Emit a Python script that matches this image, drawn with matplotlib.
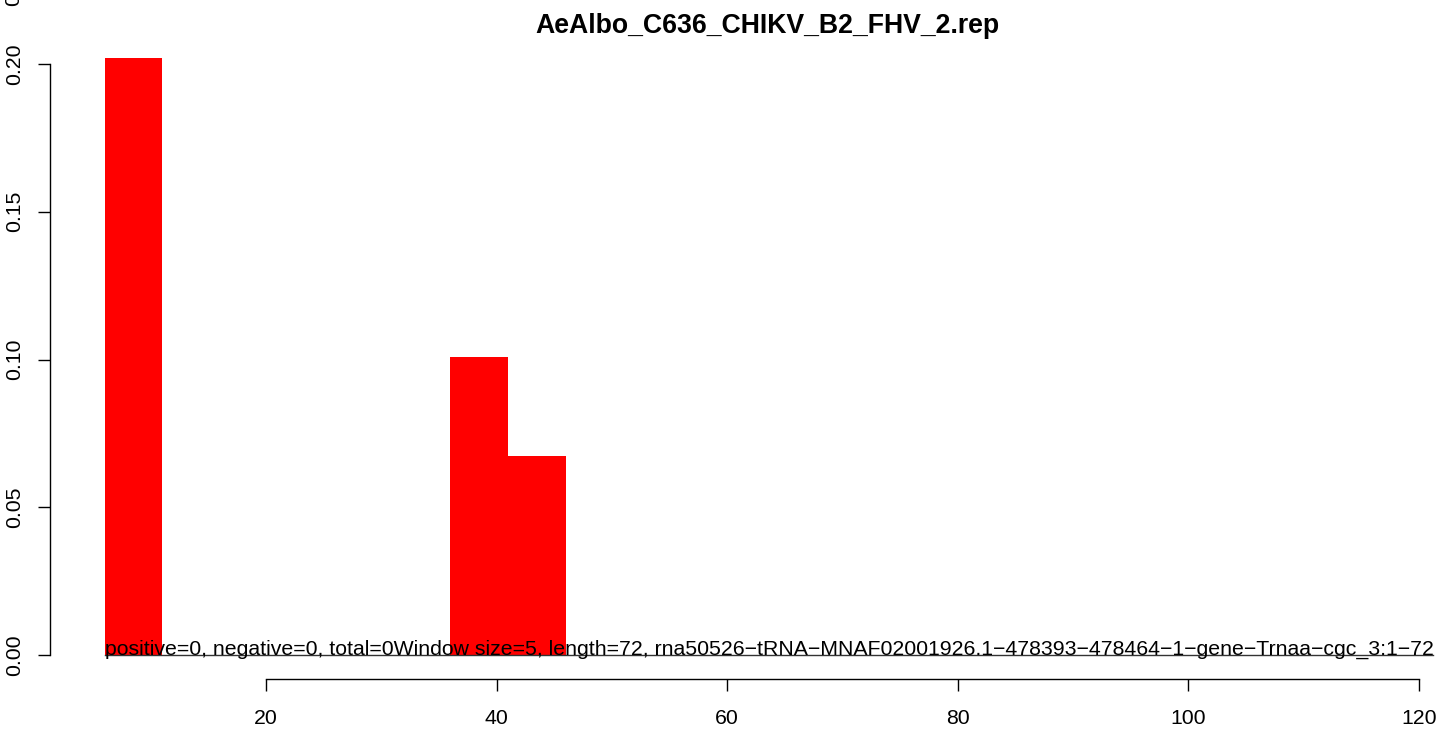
import matplotlib
matplotlib.use("Agg")
import matplotlib.pyplot as plt

plt.rcParams['font.family'] = ['Liberation Sans', 'DejaVu Sans']

title = "AeAlbo_C636_CHIKV_B2_FHV_2.rep"
bar_left = [6, 36, 41]
bar_width = 5
bar_height = [0.202, 0.101, 0.0675]
xticks = [20, 40, 60, 80, 100, 120]
yticks = [0.00, 0.05, 0.10, 0.15, 0.20]
ytick_labels = ["0.00", "0.05", "0.10", "0.15", "0.20"]
info_text = ("positive=0, negative=0, total=0Window size=5, length=72, "
             "rna50526\u2212tRNA\u2212MNAF02001926.1\u2212478393\u2212478464\u22121"
             "\u2212gene\u2212Trnaa\u2212cgc_3:1\u221272")

W, H = 1444, 730
fig = plt.figure(figsize=(W / 100, H / 100), dpi=100)

FS = 15.3

# pixel geometry
px_per_x = (1419 - 266) / 100.0
px_per_y = (655 - 64) / 0.2
left_px, right_px, top_px, bot_px = 50, 1444, 34, 679
ax = fig.add_axes([left_px / W, (H - bot_px) / H, (right_px - left_px) / W, (bot_px - top_px) / H])
ax.set_xlim(20 - (266 - left_px) / px_per_x, 20 + (right_px - 266) / px_per_x)
ax.set_ylim(-(bot_px - 655) / px_per_y, 0.2 + (64 - top_px) / px_per_y)

ax.bar(bar_left, bar_height, width=bar_width, align='edge', color='#ff0000', edgecolor='none', zorder=2)

x_end = 6 + (1432 - 104) / px_per_x
ax.plot([6, x_end], [0, 0], color='#333333', lw=1.0, zorder=3)
ax.text(6, 0, info_text, ha='left', va='baseline', fontsize=FS, color='black', zorder=4)

for s in ['top', 'right']:
    ax.spines[s].set_visible(False)
ax.spines['left'].set_bounds(0, 0.2)
ax.spines['bottom'].set_bounds(20, 120)
ax.spines['left'].set_linewidth(1.0)
ax.spines['bottom'].set_linewidth(1.0)

ax.set_xticks(xticks)
ax.set_xticklabels([str(v) for v in xticks])
ax.set_yticks(yticks)
ax.set_yticklabels(ytick_labels, rotation=90, va='center')
ax.tick_params(axis='both', length=8.6, width=1.0, labelsize=FS)
ax.tick_params(axis='x', pad=13)
ax.tick_params(axis='y', pad=10)

fig.text(767.5 / W, 1 - 33 / H, title, ha='center', va='baseline', fontsize=19.2, fontweight='bold')
# partial label of panel above (cropped in the reference)
fig.text(14 / W, 1 - 6 / H, "0.25", rotation=90, ha='center', va='bottom', fontsize=FS)

fig.savefig("out.png", dpi=100)
